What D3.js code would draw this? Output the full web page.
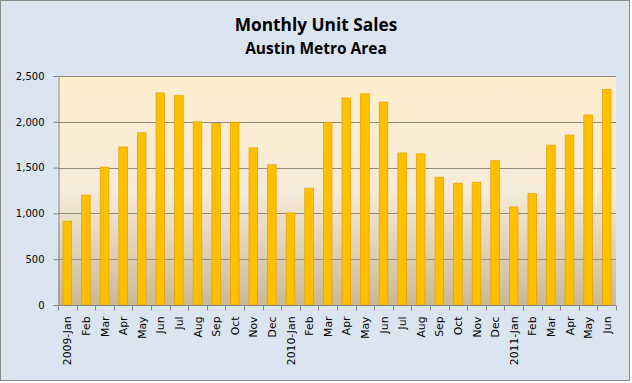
<!DOCTYPE html>
<html><head><meta charset="utf-8">
<script src="https://cdn.jsdelivr.net/npm/d3@7"></script>
<style>body{margin:0;background:#fff}svg{display:block}</style>
</head><body>
<svg id="c" width="632" height="383"></svg>
<script>
const categories = ["2009-Jan","Feb","Mar","Apr","May","Jun","Jul","Aug","Sep","Oct","Nov","Dec",
  "2010-Jan","Feb","Mar","Apr","May","Jun","Jul","Aug","Sep","Oct","Nov","Dec",
  "2011-Jan","Feb","Mar","Apr","May","Jun"];
const sales = [915,1200,1505,1725,1880,2315,2285,2000,1980,1995,1715,1530,
  1005,1275,1995,2260,2305,2215,1660,1650,1395,1330,1340,1575,
  1070,1215,1745,1855,2075,2355];
const yTicks = [0,500,1000,1500,2000,2500];
const title = "Monthly Unit Sales";
const subtitle = "Austin Metro Area";

const svg = d3.select("#c");
const W = 632, H = 383;
const m = {left:58, right:616, top:76, bottom:305};

svg.append("rect").attr("x",0.5).attr("y",0.5).attr("width",W-3).attr("height",H-3)
  .attr("fill","#DBE5F1").attr("stroke","#8A8A8A").attr("stroke-width",1);

const defs = svg.append("defs");
const g = defs.append("linearGradient").attr("id","pg").attr("x1",0).attr("y1",0).attr("x2",0).attr("y2",1);
g.append("stop").attr("offset","0").attr("stop-color","#FFEECD");
g.append("stop").attr("offset","0.5").attr("stop-color","#F6EBD9");
g.append("stop").attr("offset","1").attr("stop-color","#C9B996");

const x = d3.scaleBand().domain(d3.range(categories.length)).range([m.left,m.right]).paddingInner(0.54).paddingOuter(0.27);
const y = d3.scaleLinear().domain([0,2500]).range([m.bottom,m.top]);

svg.append("rect").attr("x",m.left).attr("y",m.top).attr("width",m.right-m.left).attr("height",m.bottom-m.top)
  .attr("fill","url(#pg)");

// gridlines
svg.append("g").selectAll("line").data(yTicks.filter(d=>d>0)).join("line")
  .attr("x1",m.left).attr("x2",m.right)
  .attr("y1",d=>Math.round(y(d))+0.5).attr("y2",d=>Math.round(y(d))+0.5)
  .attr("stroke","#8E8A80").attr("stroke-width",1);

// bars
svg.append("g").selectAll("rect").data(sales).join("rect")
  .attr("x",(d,i)=>x(i)).attr("width",x.bandwidth())
  .attr("y",d=>y(d)).attr("height",d=>y(0)-y(d))
  .attr("fill","#FFC000").attr("stroke","#E8A200").attr("stroke-width",0.8);

// y axis
const ya = svg.append("g").attr("transform",`translate(${m.left+0.5},0)`)
  .call(d3.axisLeft(y).tickValues(yTicks).tickSize(5).tickPadding(9).tickFormat(d3.format(",")));
ya.select(".domain").attr("stroke","#868686");
ya.selectAll(".tick line").attr("stroke","#868686");
ya.selectAll("text").attr("font-family","Verdana, 'DejaVu Sans', sans-serif").attr("font-size","10px").attr("fill","#000");

// x axis
const xa = svg.append("g").attr("transform",`translate(0,${m.bottom+0.5})`);
xa.append("line").attr("x1",m.left).attr("x2",m.right).attr("stroke","#868686");
const bounds = d3.range(categories.length+1).map(i=>m.left + i*(m.right-m.left)/categories.length);
xa.selectAll("line.t").data(bounds).join("line").attr("class","t")
  .attr("x1",d=>Math.round(d)+0.5).attr("x2",d=>Math.round(d)+0.5).attr("y1",0).attr("y2",5).attr("stroke","#868686");
xa.selectAll("text").data(categories).join("text")
  .attr("transform",(d,i)=>`translate(${x(i)+x.bandwidth()/2+4},11) rotate(-90)`)
  .attr("text-anchor","end")
  .attr("font-family","Verdana, 'DejaVu Sans', sans-serif").attr("font-size","10.8px").attr("fill","#000")
  .text(d=>d);

svg.append("text").attr("x",316).attr("y",31).attr("text-anchor","middle")
  .attr("font-family","'Open Sans', Lato, sans-serif").attr("font-weight","bold").attr("font-size","17.3px").text(title);
svg.append("text").attr("x",316).attr("y",54).attr("text-anchor","middle")
  .attr("font-family","'Open Sans', Lato, sans-serif").attr("font-weight","bold").attr("font-size","15.5px").text(subtitle);
</script>
</body></html>
